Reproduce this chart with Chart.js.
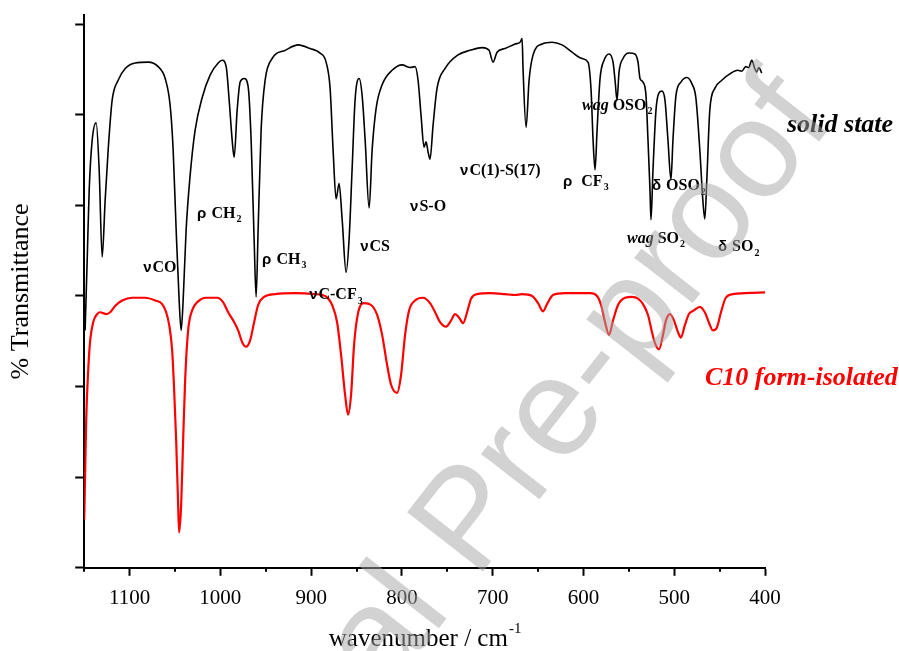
<!DOCTYPE html>
<html>
<head>
<meta charset="utf-8">
<script src="https://cdn.jsdelivr.net/npm/chart.js@4"></script>
<style>
html,body{margin:0;padding:0;background:#fff;}
#c{display:block;}
</style>
</head>
<body>
<canvas id="c" width="899" height="651"></canvas>
<script>
// ---- data (wavenumber in cm-1, transmittance in arbitrary %T units) ----
const solidWn = [1149,1146.7,1144.5,1141.2,1136.8,1133.5,1130.2,1126.9,1123.6,1119.2,1112.6,1104.8,1093.8,1079.5,1068.5,1060.8,1055.3,1052.0,1048.7,1045.4,1043.2,1041.0,1037.7,1033.3,1027.8,1020.0,1011.2,1002.4,998.0,993.6,990.3,987.0,984.8,981.5,978.2,973.8,969.4,966.1,962.8,960.6,958.4,955.1,950.7,943.0,928.6,914.3,901.1,890.1,883.5,879.1,875.8,872.5,869.2,865.8,861.5,858.2,854.9,851.6,847.1,843.8,840.5,836.1,832.8,828.4,821.8,810.8,799.8,791.0,785.5,782.2,778.9,775.6,773.4,771.2,769.0,765.7,761.3,752.4,738.1,724.9,711.7,704.0,699.6,695.2,686.4,675.3,669.8,667.6,666.5,663.2,659.9,655.5,645.6,634.6,623.6,612.6,601.6,595.0,591.6,589.4,587.2,585.0,581.7,577.3,571.8,567.4,565.2,563.0,560.8,556.4,549.8,543.2,539.9,537.7,534.4,531.1,528.9,526.7,525.6,523.4,520.1,516.8,513.5,510.2,506.9,503.6,501.4,498.1,492.6,486.0,480.5,476.1,471.8,468.5,466.3,464.1,460.8,455.3,447.6,438.8,430.0,425.6,421.2,417.9,414.6,411.3,409.1,406.9,403.6];
const solidT = [26.2,34.0,41.7,47.2,49.1,43.9,34.3,40.6,46.1,51.6,53.8,55.1,55.7,55.8,55.3,54.0,51.0,46.1,37.3,29.5,26.2,29.5,37.3,43.3,48.3,51.9,54.4,55.7,56.0,55.3,51.6,47.2,45.3,50.5,53.6,54.0,53.1,47.2,36.2,29.9,37.3,48.3,53.8,56.2,57.1,57.7,57.3,56.8,55.8,52.9,46.1,40.7,42.4,38.4,32.6,36.2,43.9,51.6,54.0,52.1,47.2,39.7,46.1,50.7,53.3,54.9,55.5,55.2,55.3,53.8,49.9,46.4,47.0,45.9,45.1,48.8,52.9,55.1,56.6,57.1,57.4,57.1,55.8,56.9,57.3,57.8,58.0,58.4,54.9,48.6,53.8,56.6,57.8,58.0,57.7,56.9,56.2,55.8,52.7,47.2,43.9,48.3,54.0,56.0,56.7,55.8,53.8,51.6,54.7,56.2,56.8,56.7,55.8,54.0,53.6,52.1,47.2,41.7,38.4,43.9,50.5,52.4,52.6,51.6,47.2,42.8,47.2,52.1,53.6,54.1,53.4,51.8,46.1,40.6,38.5,42.8,50.5,52.9,53.8,54.5,54.9,54.8,55.3,55.2,56.0,55.1,54.7,55.2,54.6];

const isoWn = [1150,1148.9,1147.8,1145.6,1143.4,1140.1,1135.7,1132.4,1129.1,1125.8,1121.4,1115.9,1108.2,1097.1,1082.8,1071.8,1064.1,1059.7,1056.4,1053.1,1050.9,1048.7,1046.5,1045.4,1043.2,1041.0,1038.8,1035.5,1031.1,1024.5,1015.6,1003.5,996.9,991.4,985.9,980.4,976.0,971.6,967.2,962.8,958.4,951.8,939.7,917.6,895.6,884.6,876.9,871.4,867.0,862.6,859.3,856.0,852.7,848.3,841.6,833.9,827.3,821.8,816.3,811.9,805.3,800.9,796.5,792.1,785.5,776.7,769.0,763.4,758.0,751.4,745.8,741.4,737.0,732.6,728.2,723.8,717.2,702.9,686.4,675.3,667.6,656.6,650.0,644.5,640.1,633.5,620.3,592.8,585.0,580.6,576.2,571.8,567.4,561.9,554.2,546.5,539.9,534.4,528.9,524.5,521.2,516.8,512.4,509.1,504.7,500.3,495.9,492.6,488.2,483.8,478.4,471.8,466.3,461.9,457.5,453.1,448.5,443.2,435.3,422.1,400];
const isoT = [5.3,10.8,16.3,21.8,25.1,27.1,28.0,28.2,28.1,28.0,28.2,28.9,29.5,29.8,29.8,29.5,29.1,28.2,26.8,24.0,19.6,14.1,6.9,3.9,6.9,14.1,20.7,26.2,28.4,29.4,29.8,29.8,29.3,28.2,27.3,26.2,24.9,24.4,25.1,27.1,29.0,29.9,30.2,30.3,30.2,30.0,29.0,27.1,23.5,19.1,16.9,19.1,24.6,28.1,29.2,29.0,27.9,25.7,22.4,20.2,19.3,21.3,25.7,28.4,29.5,29.8,29.2,28.2,27.1,26.6,27.3,28.0,27.6,27.0,28.2,29.7,30.2,30.3,30.2,30.1,30.2,30.0,29.2,28.3,29.1,30.1,30.3,30.3,30.0,29.0,27.1,25.7,27.3,29.0,29.8,29.9,29.7,29.1,27.9,26.0,24.8,24.1,25.7,27.3,28.0,27.3,26.0,25.4,26.8,28.0,28.4,28.8,28.2,27.1,26.2,26.5,28.2,29.8,30.2,30.3,30.4];

const xTickLabels = [1100,1000,900,800,700,600,500,400];
const xMinorTicks = [1150,1050,950,850,750,650,550,450];
const yTickValues = [0,10,20,30,40,50,60];

// band assignments: text, anchor wavenumber, anchor T (left/middle of text)
const bandText = ['νCO','ρ CH_2','ρ CH_3','νC-CF_3','νCS','νS-O','νC(1)-S(17)','ρ  CF_3','*wag* OSO_2','δ OSO_2','*wag* SO_2','δ SO_2'];
const bandWn   = [1085,1025.6,954,902.2,846,791,735.9,622.5,601.6,524.5,552,451.8];
const bandT    = [33.1,39.1,34.0,30.1,35.4,39.8,43.8,42.6,51.0,42.1,36.3,35.4];

const seriesNames = ['solid state','C10 form-isolated'];
const seriesLabelWn = [375.8,466.1];
const seriesLabelT = [48.8,20.9];
const seriesColors = ['#000000','#ff0000'];

const toXY = (xs, ys) => xs.map((x, i) => ({x: x, y: ys[i]}));

const SERIF = '"Liberation Serif", "Times New Roman", serif';
const SANS = '"Liberation Sans", Arial, sans-serif';
const GREEK = 'νρδ';

const extras = {
  id: 'extras',
  afterDraw(chart) {
    const ctx = chart.ctx;
    const xs = chart.scales.x, ys = chart.scales.y;
    const area = chart.chartArea;
    ctx.save();
    // minor x ticks
    ctx.strokeStyle = '#000';
    ctx.lineWidth = 2;
    xMinorTicks.forEach(v => {
      const px = Math.round(xs.getPixelForValue(v));
      ctx.beginPath();
      ctx.moveTo(px, area.bottom);
      ctx.lineTo(px, area.bottom + 4);
      ctx.stroke();
    });
    // x axis title with superscript
    ctx.fillStyle = '#000';
    ctx.textBaseline = 'alphabetic';
    ctx.font = '25px ' + SERIF;
    const t1 = 'wavenumber / cm';
    const w1 = ctx.measureText(t1).width;
    ctx.font = '15px ' + SERIF;
    const w2 = ctx.measureText('-1').width;
    const cx = (area.left + area.right) / 2;
    const startX = cx - (w1 + w2) / 2;
    ctx.font = '25px ' + SERIF;
    ctx.textAlign = 'left';
    ctx.fillText(t1, startX, 646);
    ctx.font = '15px ' + SERIF;
    ctx.fillText('-1', startX + w1 + 1, 633);

    // band labels
    ctx.textBaseline = 'middle';
    bandText.forEach((txt, i) => {
      let x = xs.getPixelForValue(bandWn[i]);
      const y = ys.getPixelForValue(bandT[i]);
      let j = 0;
      while (j < txt.length) {
        let ch = txt[j];
        if (ch === '*') {
          const k = txt.indexOf('*', j + 1);
          const seg = txt.slice(j + 1, k);
          ctx.font = 'italic bold 16px ' + SERIF;
          ctx.fillText(seg, x, y);
          x += ctx.measureText(seg).width;
          j = k + 1;
        } else if (ch === '_') {
          const seg = txt[j + 1];
          ctx.font = 'bold 10px ' + SERIF;
          ctx.fillText(seg, x + 1, y + 6);
          x += ctx.measureText(seg).width + 1;
          j += 2;
        } else {
          ctx.font = GREEK.includes(ch) ? 'bold 15px ' + SANS : 'bold 16px ' + SERIF;
          ctx.fillText(ch, x, y);
          x += ctx.measureText(ch).width + (GREEK.includes(ch) ? 1 : 0);
          j += 1;
        }
      }
    });
    // series labels
    seriesNames.forEach((n, i) => {
      ctx.font = 'italic bold 26px ' + SERIF;
      ctx.fillStyle = seriesColors[i];
      ctx.fillText(n, xs.getPixelForValue(seriesLabelWn[i]), ys.getPixelForValue(seriesLabelT[i]));
    });
    // watermark
    ctx.translate(472, 523);
    ctx.rotate(-52 * Math.PI / 180);
    ctx.font = '140px ' + SANS;
    ctx.fillStyle = 'rgba(165,165,165,0.5)';
    ctx.textAlign = 'center';
    ctx.textBaseline = 'middle';
    ctx.fillText('Journal Pre-proof', 0, 0);
    ctx.restore();
  }
};

new Chart(document.getElementById('c'), {
  type: 'line',
  data: {
    datasets: [
      {label: seriesNames[0], data: toXY(solidWn, solidT), borderColor: seriesColors[0], borderWidth: 1.6, pointRadius: 0, cubicInterpolationMode: 'monotone', fill: false},
      {label: seriesNames[1], data: toXY(isoWn, isoT), borderColor: seriesColors[1], borderWidth: 2.2, pointRadius: 0, cubicInterpolationMode: 'monotone', fill: false}
    ]
  },
  options: {
    responsive: false,
    animation: false,
    events: [],
    layout: {padding: {left: 2, right: 134, top: 15, bottom: 30}},
    plugins: {legend: {display: false}, tooltip: {enabled: false}},
    scales: {
      x: {
        type: 'linear', reverse: true, min: 400, max: 1150,
        afterBuildTicks: s => { s.ticks = xTickLabels.map(v => ({value: v})); },
        ticks: {font: {family: SERIF, size: 21}, color: '#000', padding: 10, maxRotation: 0, autoSkip: false, callback: v => String(v)},
        grid: {display: true, drawOnChartArea: false, drawTicks: true, tickLength: 8, tickWidth: 2, tickColor: '#000'},
        border: {display: true, color: '#000', width: 2}
      },
      y: {
        type: 'linear', min: 0, max: 61,
        afterBuildTicks: s => { s.ticks = yTickValues.map(v => ({value: v})); },
        ticks: {display: false},
        grid: {display: true, drawOnChartArea: false, drawTicks: true, tickLength: 9, tickWidth: 2, tickColor: '#000'},
        border: {display: true, color: '#000', width: 2},
        title: {display: true, text: '% Transmittance', font: {family: SERIF, size: 26}, color: '#000', padding: {top: 4, bottom: 38}}
      }
    }
  },
  plugins: [extras]
});
</script>
</body>
</html>
